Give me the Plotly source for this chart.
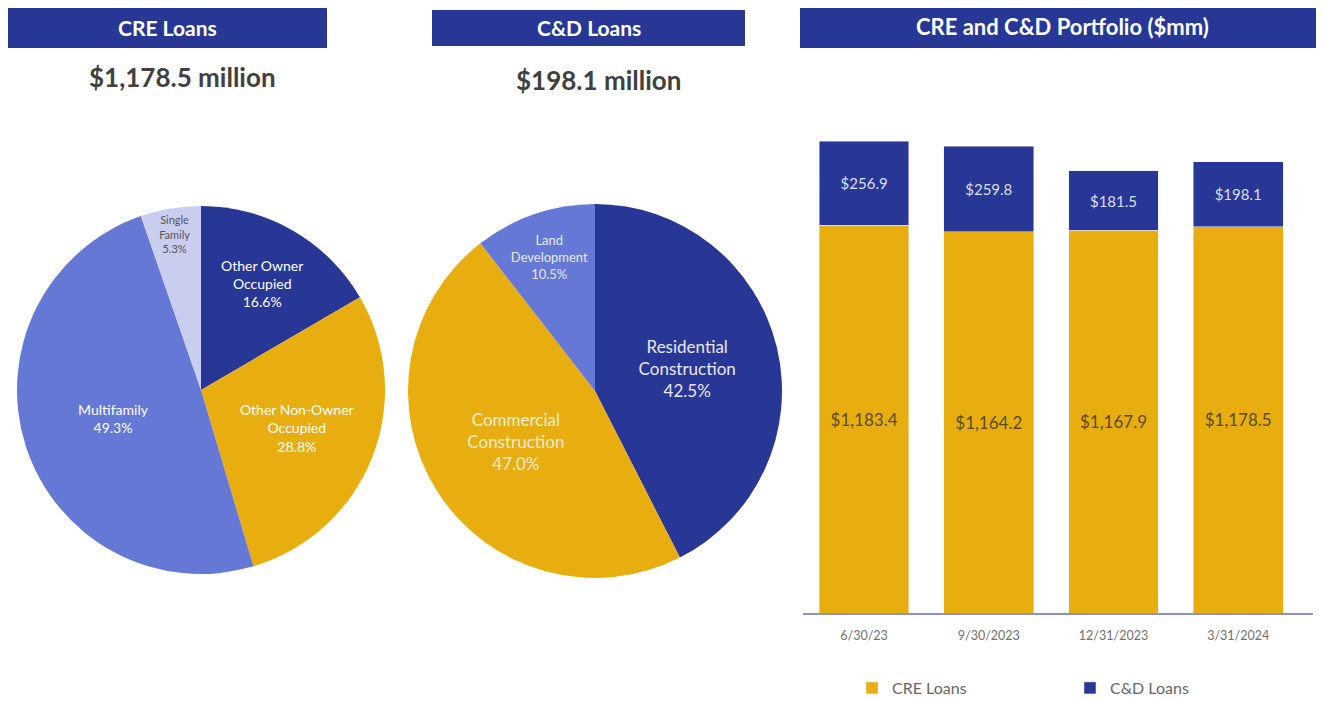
import plotly.graph_objects as go

# page body has an 8px margin; design in reference pixel coordinates and offset
OFF = 8
W, H = 1316, 694

# ---- data ----
cre_labels = ["Other Owner<br>Occupied", "Other Non-Owner<br>Occupied", "Multifamily", "Single<br>Family"]
cre_pct = [16.6, 28.8, 49.3, 5.3]
cd_labels = ["Residential<br>Construction", "Commercial<br>Construction", "Land<br>Development"]
cd_pct = [42.5, 47.0, 10.5]
periods = ["6/30/23", "9/30/2023", "12/31/2023", "3/31/2024"]
cre_loans = [1183.4, 1164.2, 1167.9, 1178.5]
cd_loans = [256.9, 259.8, 181.5, 198.1]
cre_total_text = "$1,178.5 million"
cd_total_text = "$198.1 million"

NAVY = "#283796"
GOLD = "#E8AE10"
MID = "#6578D6"
LIGHT = "#C9CEF0"
FONT = "Lato"


def px(x):
    return (x - OFF) / W


def py(y):
    return 1 - (y - OFF) / H


fig = go.Figure()

fig.add_trace(go.Pie(
    labels=cre_labels, values=cre_pct, sort=False, direction="clockwise", rotation=0,
    marker=dict(colors=[NAVY, GOLD, MID, LIGHT]),
    texttemplate="%{label}<br>%{value:.1f}%", textposition="inside",
    insidetextorientation="horizontal",
    textfont=dict(family=FONT, size=14, color=["white", "white", "white", "#555555"]),
    domain=dict(x=[px(17), px(385)], y=[py(574), py(206)]),
    showlegend=False, hoverinfo="label+value",
))

fig.add_trace(go.Pie(
    labels=cd_labels, values=cd_pct, sort=False, direction="clockwise", rotation=0,
    marker=dict(colors=[NAVY, GOLD, MID]),
    texttemplate="%{label}<br>%{value:.1f}%", textposition="inside",
    insidetextorientation="horizontal",
    textfont=dict(family=FONT, size=17, color=["#e8e8f4", "#f4ecd0", "#e8e8f4"]),
    domain=dict(x=[px(408), px(782)], y=[py(578), py(204)]),
    showlegend=False, hoverinfo="label+value",
))

fig.add_trace(go.Bar(
    x=periods, y=cre_loans, name="CRE Loans", marker_color=GOLD,
    text=[f"${v:,.1f}" for v in cre_loans], textposition="inside", insidetextanchor="middle",
    textfont=dict(family=FONT, size=17, color="#5a4a14"),
    xaxis="x", yaxis="y",
))
fig.add_trace(go.Bar(
    x=periods, y=cd_loans, name="C&D Loans", marker_color=NAVY,
    text=[f"${v:,.1f}" for v in cd_loans], textposition="inside", insidetextanchor="middle",
    textfont=dict(family=FONT, size=15, color="#dcdff0"),
    xaxis="x", yaxis="y",
))

shapes = []
annotations = []
headers = [
    (8, 327, 6, 48, "CRE Loans", 21),
    (432, 745, 10, 46, "C&D Loans", 21),
    (800, 1324, 5, 48, "CRE and C&D Portfolio ($mm)", 22),
]
for x0, x1, y0, y1, t, fs in headers:
    shapes.append(dict(type="rect", xref="paper", yref="paper", x0=px(x0), x1=px(x1),
                       y0=py(y1), y1=min(1.0, py(y0)), fillcolor=NAVY, line=dict(width=0), layer="below"))
    annotations.append(dict(text=f"<b>{t}</b>", xref="paper", yref="paper", x=px((x0 + x1) / 2),
                            y=py((y0 + y1) / 2), showarrow=False, xanchor="center", yanchor="middle",
                            font=dict(family=FONT, size=fs, color="white")))

annotations.append(dict(text=f"<b>{cre_total_text}</b>", xref="paper", yref="paper", x=px(182), y=py(77),
                        showarrow=False, xanchor="center", yanchor="middle",
                        font=dict(family=FONT, size=26, color="#404040")))
annotations.append(dict(text=f"<b>{cd_total_text}</b>", xref="paper", yref="paper", x=px(598), y=py(80),
                        showarrow=False, xanchor="center", yanchor="middle",
                        font=dict(family=FONT, size=26, color="#404040")))

fig.update_layout(
    width=W, height=H, margin=dict(l=0, r=0, t=0, b=0, autoexpand=False),
    paper_bgcolor="white", plot_bgcolor="white",
    barmode="stack", bargap=0.28,
    font=dict(family=FONT),
    xaxis=dict(domain=[px(803), px(1313)], range=[-0.49, 3.6], showgrid=False, zeroline=False,
               showline=True, linecolor="#8a96b8", linewidth=2, ticks="", ticklabelstandoff=10,
               tickfont=dict(family=FONT, size=12.5, color="#707070"), anchor="y"),
    yaxis=dict(domain=[py(613), py(130)], range=[0, 1474], visible=False, anchor="x"),
    legend=dict(orientation="h", x=px(852), y=py(688), xanchor="left", yanchor="middle",
                font=dict(family=FONT, size=16, color="#666666"), entrywidth=173,
                entrywidthmode="pixels", traceorder="normal"),
    shapes=shapes, annotations=annotations,
)

fig.write_html("out.html")
